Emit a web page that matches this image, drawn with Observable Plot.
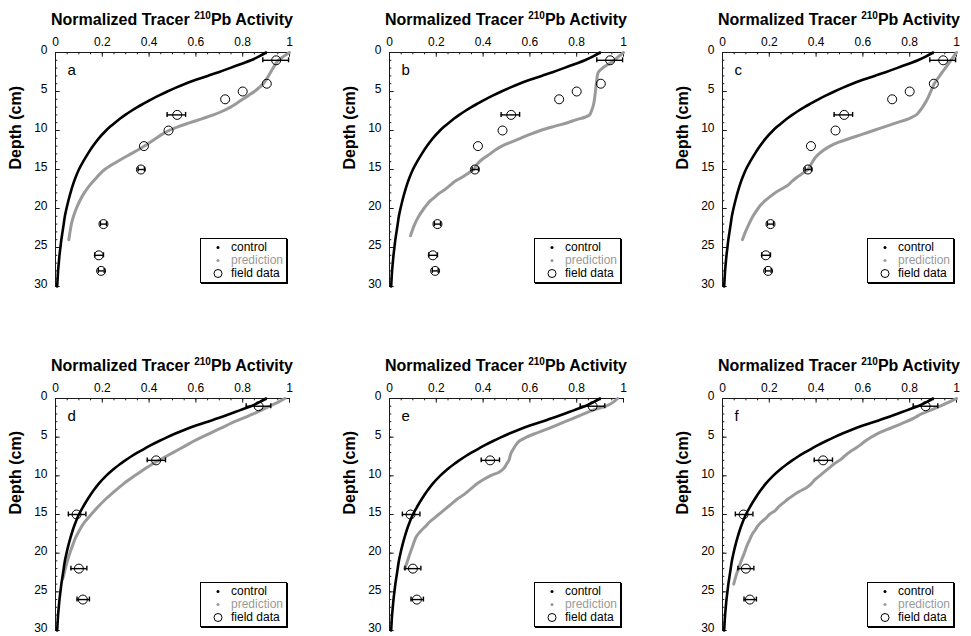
<!DOCTYPE html>
<html><head><meta charset="utf-8">
<script src="https://cdn.jsdelivr.net/npm/d3@7"></script>
<script src="https://cdn.jsdelivr.net/npm/@observablehq/plot@0.6"></script>
<style>
html,body{margin:0;padding:0;background:#fff;overflow:hidden;}
body{width:971px;height:636px;position:relative;font-family:"Liberation Sans",Arial,Helvetica,sans-serif;}
.panel{position:absolute;}
.title{position:absolute;font-weight:bold;font-size:16px;line-height:16px;text-align:center;white-space:nowrap;color:#000;}
.title sup{font-size:10px;line-height:0;vertical-align:6px;}
.legend{position:absolute;box-sizing:border-box;width:87px;height:45px;border:1px solid #000;box-shadow:1px 1px 0 #000;background:#fff;font-size:12px;}
.legend .row{position:absolute;left:0;height:13px;line-height:13px;width:100%;}
.legend .row svg{position:absolute;left:11px;top:0;}
.legend .row span{position:absolute;left:30px;top:0;}
</style></head>
<body>
<script>
// ---- axis ticks ----
const xTickValues = [0, 0.2, 0.4, 0.6, 0.8, 1];
const xTickLabels = ["0", "0.2", "0.4", "0.6", "0.8", "1"];
const yTickValues = [0, 5, 10, 15, 20, 25, 30];
const yTickLabels = ["0", "5", "10", "15", "20", "25", "30"];
const panelLetters = ["a", "b", "c", "d", "e", "f"];
const legendLabels = ["control", "prediction", "field data"];

// ---- control (same in every panel) ----
const controlDepth = [0,0.5,1,1.5,2,2.5,3,3.5,4,4.5,5,5.5,6,6.5,7,7.5,8,8.5,9,9.5,10,11,12,13,14,15,16,17,18,19,20,21,22,23,24,25,26,27,28,29,30];
const controlActivity = [0.90,0.87,0.835,0.79,0.745,0.70,0.65,0.60,0.555,0.515,0.478,0.443,0.41,0.38,0.35,0.323,0.298,0.275,0.254,0.234,0.216,0.185,0.16,0.138,0.118,0.10,0.086,0.074,0.064,0.055,0.047,0.040,0.035,0.030,0.025,0.021,0.017,0.014,0.011,0.009,0.007];

// ---- predictions ----
const predDepthA = [0,0.5,1,1.5,2,2.5,3,3.5,4,4.5,5,5.5,6,6.5,7,7.5,8,8.5,9,9.5,10,10.5,11,11.5,12,12.5,13,13.5,14,14.5,15,15.5,16,17,18,19,20,21,22,23,24];
const predActA = [1.0,0.975,0.953,0.94,0.93,0.92,0.91,0.90,0.888,0.87,0.85,0.825,0.80,0.775,0.748,0.715,0.675,0.625,0.575,0.525,0.485,0.455,0.43,0.405,0.38,0.352,0.322,0.292,0.263,0.235,0.21,0.192,0.177,0.147,0.123,0.104,0.089,0.077,0.068,0.062,0.057];

const predDepthB = [0,0.5,1,1.5,2,2.5,3,3.5,4,4.5,5,5.5,6,6.5,7,7.5,8,8.3,8.6,9,9.5,10,10.5,11,11.5,12,12.5,13,13.5,14,14.5,15,15.5,16,16.5,17,17.5,18,18.5,19,19.5,20,21,22,23,23.5];
const predActB = [1.0,0.98,0.96,0.935,0.91,0.893,0.888,0.886,0.884,0.882,0.88,0.878,0.876,0.873,0.869,0.863,0.855,0.835,0.80,0.76,0.70,0.645,0.60,0.56,0.52,0.48,0.452,0.43,0.405,0.385,0.37,0.36,0.335,0.31,0.28,0.26,0.24,0.215,0.195,0.175,0.16,0.147,0.125,0.108,0.095,0.09];

const predDepthC = [0,1,2,3,4,5,6,7,7.5,8,8.5,9,9.5,10,10.5,11,11.5,12,12.5,13,13.5,14,14.5,15,15.5,16,16.5,17,17.5,18,18.5,19,19.5,20,21,22,23,24];
const predActC = [1.0,0.976,0.952,0.928,0.905,0.89,0.875,0.855,0.843,0.828,0.795,0.745,0.695,0.645,0.596,0.545,0.497,0.46,0.433,0.412,0.396,0.385,0.375,0.365,0.342,0.318,0.298,0.28,0.252,0.224,0.202,0.182,0.165,0.152,0.13,0.113,0.098,0.085];

const predDepthD = [0,0.5,1,1.5,2,2.5,3,3.5,4,4.5,5,5.5,6,6.5,7,7.5,8,8.5,9,9.5,10,11,12,13,14,15,16,17,18,19,20,21,22,23,23.3];
const predActD = [0.98,0.95,0.915,0.88,0.845,0.805,0.765,0.73,0.695,0.66,0.625,0.592,0.562,0.532,0.502,0.472,0.442,0.413,0.387,0.362,0.338,0.292,0.252,0.215,0.182,0.152,0.124,0.103,0.086,0.073,0.061,0.051,0.042,0.034,0.031];

const predDepthE = [0,0.5,1,1.5,2,2.5,3,3.5,4,4.5,5,5.5,6,6.5,7,7.5,8,8.5,9,9.5,10,10.5,11,11.5,12,12.5,13,13.5,14,14.5,15,15.5,16,16.5,17,17.5,18,19,20,21,22];
const predActE = [0.975,0.955,0.925,0.87,0.83,0.79,0.75,0.71,0.67,0.625,0.585,0.555,0.54,0.53,0.52,0.515,0.51,0.50,0.49,0.47,0.43,0.40,0.375,0.355,0.335,0.315,0.29,0.27,0.25,0.23,0.21,0.19,0.17,0.155,0.138,0.123,0.112,0.10,0.088,0.077,0.065];

const predDepthF = [0,0.5,1,1.5,2,2.5,3,3.5,4,4.5,5,5.5,6,6.5,7,7.5,8,8.5,9,9.5,10,10.5,11,11.5,12,12.5,13,13.5,14,14.5,15,15.5,16,16.5,17,17.5,18,19,20,21,22,23,24];
const predActF = [1.0,0.965,0.93,0.89,0.85,0.82,0.785,0.745,0.705,0.665,0.635,0.61,0.59,0.565,0.54,0.52,0.50,0.475,0.455,0.435,0.415,0.395,0.38,0.36,0.33,0.303,0.28,0.26,0.24,0.225,0.20,0.185,0.165,0.15,0.14,0.128,0.12,0.105,0.093,0.08,0.068,0.057,0.048];

// ---- field data ----
const fieldTopDepth = [1,4,5,6,8,10,12,15,22,26,28];
const fieldTopActivity = [0.943,0.903,0.80,0.725,0.52,0.483,0.378,0.365,0.205,0.185,0.195];
const errTopDepth = [1,8,15,22,26,28];
const errTopLow = [0.886,0.477,0.353,0.192,0.168,0.183];
const errTopHigh = [0.996,0.556,0.38,0.218,0.205,0.208];

const fieldBotDepth = [1,8,15,22,26];
const fieldBotActivity = [0.868,0.43,0.09,0.10,0.117];
const errBotDepth = [1,8,15,22,26];
const errBotLow = [0.815,0.392,0.055,0.066,0.092];
const errBotHigh = [0.92,0.47,0.13,0.134,0.145];

// ---- build tables ----
const zip2 = (ds, as) => ds.map((d, i) => ({depth: d, act: as[i]}));
const zipErr = (ds, lo, hi) => ds.map((d, i) => ({depth: d, lo: lo[i], hi: hi[i]}));
const control = zip2(controlDepth, controlActivity);
const fieldTop = zip2(fieldTopDepth, fieldTopActivity);
const fieldBot = zip2(fieldBotDepth, fieldBotActivity);
const errTop = zipErr(errTopDepth, errTopLow, errTopHigh);
const errBot = zipErr(errBotDepth, errBotLow, errBotHigh);
const preds = [
  zip2(predDepthA, predActA), zip2(predDepthB, predActB), zip2(predDepthC, predActC),
  zip2(predDepthD, predActD), zip2(predDepthE, predActE), zip2(predDepthF, predActF)
];

// ---- layout ----
const W = 234;
const colX = [55, 389, 722];
const rowY = [52, 398];
const rowH = [234, 232];
const ML = 55, MT = 52, MR = 10, MB = 6;
const xMinor = d3.range(0, 1.0001, 0.05);
const yMinor = d3.range(0, 30.001, 1);
const FONT = '"Liberation Sans", Arial, Helvetica, sans-serif';
const AX = "#1a1a1a";

panelLetters.forEach((letter, k) => {
  const row = Math.floor(k / 3), col = k % 3;
  const x0 = colX[col], y0 = rowY[row], h = rowH[row];
  const field = row === 0 ? fieldTop : fieldBot;
  const err = row === 0 ? errTop : errBot;
  const chart = Plot.plot({
    width: ML + W + MR, height: MT + h + MB,
    marginLeft: ML, marginTop: MT, marginRight: MR, marginBottom: MB,
    style: {fontFamily: FONT, fontSize: "12px", background: "transparent", overflow: "visible", color: "#000"},
    x: {domain: [0, 1], axis: null},
    y: {domain: [0, 30], reverse: true, axis: null},
    marks: [
      Plot.ruleY([0], {x1: 0, x2: 1, stroke: AX, strokeWidth: 1}),
      Plot.ruleX([0], {y1: 0, y2: 30, stroke: AX, strokeWidth: 1}),
      Plot.ruleX(xMinor, {x: d => d, y1: 0, y2: 0.3, stroke: AX}),
      Plot.ruleX(xTickValues, {x: d => d, y1: 0, y2: 0.6, stroke: AX}),
      Plot.ruleY(yMinor, {y: d => d, x1: 0, x2: 0.01, stroke: AX}),
      Plot.ruleY(yTickValues, {y: d => d, x1: 0, x2: 0.02, stroke: AX}),
      Plot.axisX({anchor: "top", ticks: xTickValues, tickSize: 0, tickPadding: 7,
        tickFormat: d => xTickLabels[xTickValues.indexOf(d)], fontSize: 12, label: null}),
      Plot.axisY({anchor: "left", ticks: yTickValues, tickSize: 0, tickPadding: 8, dy: -2,
        tickFormat: d => yTickLabels[yTickValues.indexOf(d)], fontSize: 12, label: null}),
      Plot.text(["Depth (cm)"], {frameAnchor: "left", dx: -40, rotate: -90, fontWeight: "bold", fontSize: 16, text: d => d}),
      Plot.text([letter], {frameAnchor: "top-left", dx: 12, dy: 12, fontSize: 15, textAnchor: "start", text: d => d}),
      Plot.line(preds[k], {x: "act", y: "depth", stroke: "#9a9a9a", strokeWidth: 3, curve: "catmull-rom"}),
      Plot.line(control, {x: "act", y: "depth", stroke: "#000", strokeWidth: 2.6, curve: "catmull-rom"}),
      Plot.ruleY(err, {y: "depth", x1: "lo", x2: "hi", stroke: "#000", strokeWidth: 1.4}),
      Plot.ruleX(err, {x: "lo", y1: d => d.depth - 0.32, y2: d => d.depth + 0.32, stroke: "#000", strokeWidth: 1.4}),
      Plot.ruleX(err, {x: "hi", y1: d => d.depth - 0.32, y2: d => d.depth + 0.32, stroke: "#000", strokeWidth: 1.4}),
      Plot.dot(field, {x: "act", y: "depth", r: 4.5, stroke: "#000", fill: "none", strokeWidth: 1})
    ]
  });
  chart.classList.add("panel");
  chart.style.left = (x0 - ML) + "px";
  chart.style.top = (y0 - MT) + "px";
  document.body.appendChild(chart);

  const t = document.createElement("div");
  t.className = "title";
  t.style.left = (x0 - 30) + "px";
  t.style.width = (W + 60) + "px";
  t.style.top = (y0 - 27 - 13.5) + "px";
  t.innerHTML = "Normalized Tracer <sup>210</sup>Pb Activity";
  document.body.appendChild(t);

  const lg = document.createElement("div");
  lg.className = "legend";
  lg.style.left = (x0 + W - 89) + "px";
  lg.style.top = (y0 + h - 48) + "px";
  const syms = [
    '<svg width="12" height="13"><circle cx="6" cy="6.5" r="1.5" fill="#000"/></svg>',
    '<svg width="12" height="13"><circle cx="6" cy="6.5" r="1.5" fill="#9a9a9a"/></svg>',
    '<svg width="12" height="13"><circle cx="6" cy="6.5" r="4" fill="none" stroke="#000" stroke-width="1"/></svg>'
  ];
  const colors = ["#000", "#9a9a9a", "#000"];
  legendLabels.forEach((lab, i) => {
    const r = document.createElement("div");
    r.className = "row";
    r.style.top = (1.5 + i * 13.4) + "px";
    r.innerHTML = syms[i] + '<span style="color:' + colors[i] + '">' + lab + '</span>';
    lg.appendChild(r);
  });
  document.body.appendChild(lg);
});
</script>
</body></html>
